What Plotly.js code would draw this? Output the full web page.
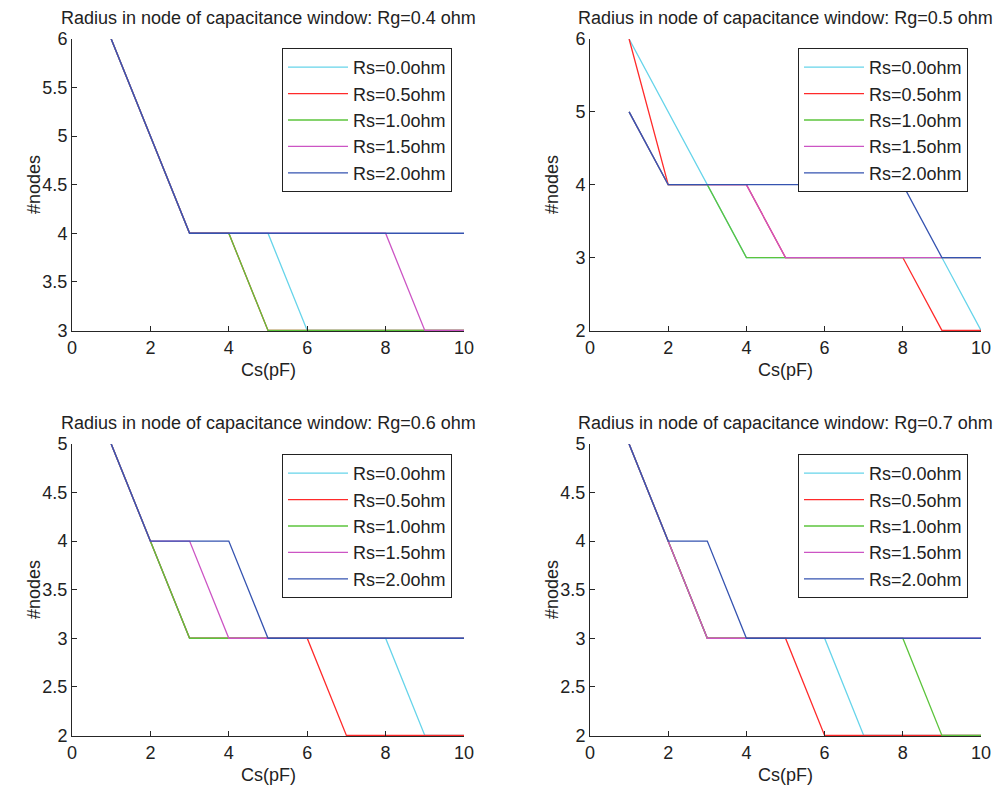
<!DOCTYPE html>
<html>
<head>
<meta charset="utf-8">
<script src="https://cdn.plot.ly/plotly-3.0.1.min.js"></script>
<style>html,body{margin:0;padding:0;background:#fff}#chart{width:996px;height:791px}</style>
</head>
<body>
<div id="chart"></div>
<script>
// ---- data ----
const cs = [1, 2, 3, 4, 5, 6, 7, 8, 9, 10];
const seriesNames = ["Rs=0.0ohm", "Rs=0.5ohm", "Rs=1.0ohm", "Rs=1.5ohm", "Rs=2.0ohm"];
const panelTitles = [
  "Radius in node of capacitance window: Rg=0.4 ohm",
  "Radius in node of capacitance window: Rg=0.5 ohm",
  "Radius in node of capacitance window: Rg=0.6 ohm",
  "Radius in node of capacitance window: Rg=0.7 ohm"
];
// Rg = 0.4 ohm
const rg04_rs00 = [6, 5, 4, 4, 4, 3, 3, 3, 3, 3];
const rg04_rs05 = [6, 5, 4, 4, 3, 3, 3, 3, 3, 3];
const rg04_rs10 = [6, 5, 4, 4, 3, 3, 3, 3, 3, 3];
const rg04_rs15 = [6, 5, 4, 4, 4, 4, 4, 4, 3, 3];
const rg04_rs20 = [6, 5, 4, 4, 4, 4, 4, 4, 4, 4];
// Rg = 0.5 ohm
const rg05_rs00 = [6, 5, 4, 3, 3, 3, 3, 3, 3, 2];
const rg05_rs05 = [6, 4, 4, 4, 3, 3, 3, 3, 2, 2];
const rg05_rs10 = [5, 4, 4, 3, 3, 3, 3, 3, 3, 3];
const rg05_rs15 = [5, 4, 4, 4, 3, 3, 3, 3, 3, 3];
const rg05_rs20 = [5, 4, 4, 4, 4, 4, 4, 4, 3, 3];
// Rg = 0.6 ohm
const rg06_rs00 = [5, 4, 3, 3, 3, 3, 3, 3, 2, 2];
const rg06_rs05 = [5, 4, 3, 3, 3, 3, 2, 2, 2, 2];
const rg06_rs10 = [5, 4, 3, 3, 3, 3, 3, 3, 3, 3];
const rg06_rs15 = [5, 4, 4, 3, 3, 3, 3, 3, 3, 3];
const rg06_rs20 = [5, 4, 4, 4, 3, 3, 3, 3, 3, 3];
// Rg = 0.7 ohm
const rg07_rs00 = [5, 4, 3, 3, 3, 3, 2, 2, 2, 2];
const rg07_rs05 = [5, 4, 3, 3, 3, 2, 2, 2, 2, 2];
const rg07_rs10 = [5, 4, 3, 3, 3, 3, 3, 3, 2, 2];
const rg07_rs15 = [5, 4, 3, 3, 3, 3, 3, 3, 3, 3];
const rg07_rs20 = [5, 4, 4, 3, 3, 3, 3, 3, 3, 3];

const xTickVals = [0, 2, 4, 6, 8, 10];
const xTitle = "Cs(pF)";
const yTitle = "#nodes";

// ---- styling / layout ----
const W = 996, H = 791;
const colors = ["#66d4ea", "#ff2a2a", "#5cc43c", "#cc55c4", "#3553b0"];
const FONT = "Liberation Sans, Arial, sans-serif";
const panels = [
  {series: [rg04_rs00, rg04_rs05, rg04_rs10, rg04_rs15, rg04_rs20], yr: [3, 6], dy: 0.5, box: [72, 464, 39, 331], leg: [282, 48]},
  {series: [rg05_rs00, rg05_rs05, rg05_rs10, rg05_rs15, rg05_rs20], yr: [2, 6], dy: 1, box: [590, 981, 39, 331], leg: [798, 48]},
  {series: [rg06_rs00, rg06_rs05, rg06_rs10, rg06_rs15, rg06_rs20], yr: [2, 5], dy: 0.5, box: [72, 464, 444, 736], leg: [282, 454]},
  {series: [rg07_rs00, rg07_rs05, rg07_rs10, rg07_rs15, rg07_rs20], yr: [2, 5], dy: 0.5, box: [590, 981, 444, 736], leg: [798, 454]}
];
const px = v => v / W;
const py = v => 1 - v / H;

const traces = [];
const layout = {
  width: W, height: H,
  margin: {l: 0, r: 0, t: 0, b: 0},
  paper_bgcolor: "#fff", plot_bgcolor: "#fff",
  font: {family: FONT, size: 18, color: "#222"},
  showlegend: true,
  annotations: []
};

panels.forEach((p, i) => {
  const n = i + 1;
  const xa = "xaxis" + (n === 1 ? "" : n), ya = "yaxis" + (n === 1 ? "" : n);
  const xr = "x" + (n === 1 ? "" : n), yr = "y" + (n === 1 ? "" : n);
  const lg = "legend" + (n === 1 ? "" : n);
  const [x0, x1, y0, y1] = p.box;
  const pxPerUnit = (y1 - y0) / (p.yr[1] - p.yr[0]);
  p.series.forEach((s, k) => {
    traces.push({
      type: "scatter", mode: "lines", x: cs, y: s,
      name: seriesNames[k], xaxis: xr, yaxis: yr, legend: lg,
      line: {color: colors[k], width: 1.3},
      hoverinfo: "skip"
    });
  });
  const axCommon = {
    showline: true, linecolor: "#262626", linewidth: 1, mirror: false,
    ticks: "inside", ticklen: 5, tickwidth: 1, tickcolor: "#262626",
    showgrid: false, zeroline: false, fixedrange: true,
    tickfont: {family: FONT, size: 18, color: "#222"}
  };
  layout[xa] = Object.assign({}, axCommon, {
    domain: [px(x0), px(x1)], anchor: yr, range: [0, 10],
    tickmode: "array", tickvals: xTickVals, ticktext: xTickVals.map(String)
  });
  const yticks = [];
  for (let v = p.yr[0]; v <= p.yr[1] + 1e-9; v += p.dy) yticks.push(+v.toFixed(2));
  layout[ya] = Object.assign({}, axCommon, {
    domain: [py(y1), py(y0)], anchor: xr,
    range: [p.yr[0] - 0.6 / pxPerUnit, p.yr[1]],
    tickmode: "array", tickvals: yticks, ticktext: yticks.map(String),
    ticklabelstandoff: 0
  });
  layout[lg] = {
    x: px(p.leg[0]), y: py(p.leg[1]), xanchor: "left", yanchor: "top",
    xref: "paper", yref: "paper",
    bgcolor: "#fff", bordercolor: "#222", borderwidth: 1,
    font: {family: FONT, size: 18, color: "#222"},
    itemwidth: 60, tracegroupgap: 0
  };
  const cx = (x0 + x1) / 2, cy = (y0 + y1) / 2;
  layout.annotations.push(
    {text: panelTitles[i], xref: "paper", yref: "paper", x: px(cx), y: py(y0 - 21),
     xanchor: "center", yanchor: "middle", showarrow: false, font: {family: FONT, size: 18, color: "#222"}},
    {text: xTitle, xref: "paper", yref: "paper", x: px(cx), y: py(y1 + 39),
     xanchor: "center", yanchor: "middle", showarrow: false, font: {family: FONT, size: 18, color: "#222"}},
    {text: yTitle, xref: "paper", yref: "paper", x: px(x0 - 38), y: py(cy),
     xanchor: "center", yanchor: "middle", textangle: -90, showarrow: false, font: {family: FONT, size: 18, color: "#222"}}
  );
});

Plotly.newPlot("chart", traces, layout, {staticPlot: true, displayModeBar: false});
</script>
</body>
</html>
